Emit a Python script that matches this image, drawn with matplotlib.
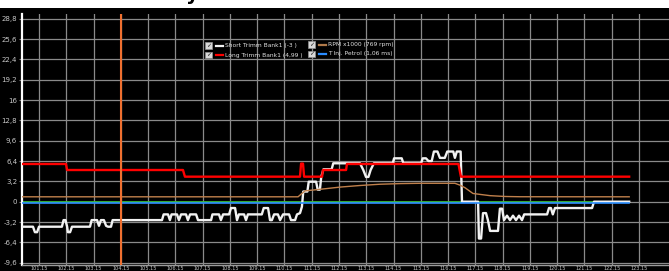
import matplotlib
matplotlib.use("Agg")
import matplotlib.pyplot as plt
from matplotlib.patches import Rectangle
from matplotlib.lines import Line2D

# ---- data (time in s from first grid line, values in chart units) ----
short_t = [-0.62, -0.22, -0.15, -0.07, 0.0, 0.84, 0.90, 0.97, 1.03, 1.06, 1.14, 1.21,
           1.87, 1.93, 2.13, 2.20, 2.27, 2.38, 2.46, 2.53, 2.64, 2.70,
           4.51, 4.57, 4.73, 4.80, 4.86, 5.06, 5.13, 5.21, 5.39, 5.46, 5.54, 5.76, 5.83,
           6.31, 6.36, 6.60, 6.67, 6.75, 6.97, 7.04, 7.19, 7.26, 7.33, 7.52, 7.59, 7.66,
           8.17, 8.24, 8.40, 8.47, 8.54, 8.62, 8.76, 8.84, 8.95, 9.17, 9.24, 9.39, 9.46,
           9.57, 9.64, 9.69, 9.84, 9.89, 10.16, 10.22, 10.30, 10.35, 10.43, 10.73, 10.79,
           11.77, 11.89, 11.99, 12.08, 12.16, 12.28, 12.97, 13.02, 13.30, 13.36,
           14.01, 14.07, 14.19, 14.28, 14.40, 14.48, 14.61, 14.70, 14.88, 14.97, 15.19,
           15.25, 15.32, 15.46, 15.51, 16.10, 16.13, 16.21, 16.28, 16.39, 16.46, 16.54,
           16.83, 16.90, 16.98, 17.05, 17.16, 17.27, 17.38, 17.49, 17.60, 17.71, 17.79,
           18.63, 18.70, 18.77, 18.84, 18.92, 20.28, 20.35, 21.64]
short_v = [-3.94, -3.94, -4.8, -4.8, -3.94, -3.94, -2.9, -2.9, -3.9, -4.8, -4.8, -3.94,
           -3.94, -2.9, -2.9, -3.8, -2.9, -2.9, -3.8, -3.94, -3.94, -2.9,
           -2.9, -2.0, -2.0, -2.9, -2.0, -2.0, -2.9, -2.0, -2.0, -2.9, -2.0, -2.0, -2.9,
           -2.9, -2.0, -2.0, -2.9, -2.0, -2.0, -1.0, -1.0, -2.9, -2.0, -2.0, -2.9, -2.0,
           -2.0, -1.0, -1.0, -2.9, -2.9, -2.0, -2.0, -2.9, -2.0, -2.0, -2.9, -2.9, -2.0,
           -1.8, -0.8, 1.6, 1.6, 3.15, 3.15, 1.9, 1.9, 3.94, 5.1, 5.1, 6.05,
           6.05, 5.0, 3.9, 3.9, 5.0, 6.05, 6.05, 6.83, 6.83, 6.05,
           6.05, 6.83, 6.83, 6.4, 6.4, 7.9, 7.9, 6.9, 6.9, 7.9, 7.9,
           6.9, 7.9, 7.9, 0.0, 0.0, -5.8, -5.8, -1.8, -1.8, -2.9, -4.6,
           -4.6, -1.1, -1.1, -2.9, -2.2, -2.9, -2.2, -2.9, -2.2, -2.9, -2.0,
           -2.0, -1.0, -1.0, -2.0, -1.0, -1.0, 0.0, 0.0]

long_t = [-0.62, 0.99, 1.03, 5.28, 5.35, 9.57, 9.61, 9.68, 9.72, 10.38, 10.41,
          11.26, 11.29, 15.38, 15.47, 21.64]
long_v = [5.94, 5.94, 4.99, 4.99, 3.94, 3.94, 6.0, 6.0, 3.94, 3.94, 4.99,
          4.99, 5.94, 5.94, 3.94, 3.94]

rpm_t = [-0.62, 9.50, 9.64, 9.75, 10.30, 11.04, 11.77, 12.50, 13.24, 13.97, 15.25,
         15.44, 15.62, 15.91, 16.17, 16.54, 17.09, 17.64, 21.64]
rpm_v = [0.77, 0.77, 1.3, 1.7, 1.95, 2.3, 2.55, 2.75, 2.85, 2.9, 2.9,
         2.6, 2.2, 1.3, 1.15, 0.95, 0.82, 0.78, 0.77]

inj_t = [-0.62, 21.64]
inj_v = [-0.15, -0.15]

aux_t = [-0.62, 21.64]
aux_v = [0.0, 0.0]

cursor_t = 3.01

y_ticks = [28.8, 25.6, 22.4, 19.2, 16, 12.8, 9.6, 6.4, 3.2, 0, -3.2, -6.4, -9.6]
y_tick_labels = ["28,8", "25,6", "22,4", "19,2", "16", "12,8", "9,6", "6,4", "3,2",
                 "0", "-3,2", "-6,4", "-9,6"]
x_ticks = list(range(0, 23))
x_tick_labels = [f"{101 + k}.15" for k in x_ticks]

legend_labels = ["Short Trimm Bank1 (-3 )", "Long Trimm Bank1 (4,99 )",
                 "RPM x1000 (769 rpm)", "T Inj. Petrol (1,06 ms)"]

# ---- figure ----
W, H = 669, 271
fig = plt.figure(figsize=(W / 100, H / 100), dpi=100, facecolor="black")

def fx(px):
    return px / W

def fy(py):
    return 1 - py / H

# white strip at top with clipped title
fig.patches.append(Rectangle((0, fy(8)), 1, 8 / H, transform=fig.transFigure,
                             facecolor="white", edgecolor="none", zorder=0))
fig.text(fx(186), 1.0, "y", fontsize=14, fontweight="bold", color="black",
         va="baseline", ha="left")

ax = fig.add_axes([fx(22), 6 / H, 1 - fx(22), (265 - 14) / H])
ax.set_facecolor("black")
ax.set_xlim(-0.623, 23.10)
ax.set_ylim(-9.97, 29.56)

ax.set_yticks(y_ticks)
ax.set_yticklabels(y_tick_labels)
ax.set_xticks(x_ticks)
ax.set_xticklabels(x_tick_labels)
ax.tick_params(axis="y", colors="#c8c8c8", labelsize=5, length=2, pad=1.5,
               color="#808080")
ax.tick_params(axis="x", colors="#c8c8c8", labelsize=3.6, length=0, pad=0.6)
ax.grid(True, color="#8a8a8a", lw=0.9)
ax.set_axisbelow(True)
for s in ["top", "right"]:
    ax.spines[s].set_visible(False)
ax.spines["left"].set_color("white")
ax.spines["left"].set_linewidth(1.6)
ax.spines["bottom"].set_color("#9a9a9a")
ax.spines["bottom"].set_linewidth(1.0)

ax.plot(aux_t, aux_v, color="#3cc83c", lw=1.2, zorder=2)
ax.plot(short_t, short_v, color="#f2f2f2", lw=1.7, zorder=3)
ax.plot(rpm_t, rpm_v, color="#c0804c", lw=1.0, zorder=4)
ax.plot(inj_t, inj_v, color="#2a8cff", lw=1.2, zorder=4)
ax.plot(long_t, long_v, color="#ff0000", lw=1.7, zorder=5)
ax.axvline(cursor_t, color="#f07030", lw=1.5, zorder=6)

# ---- legend (checkbox + line + text) ----
colors = ["#f2f2f2", "#ff0000", "#b07a4a", "#2a8cff"]
pos = [(205, 45.5), (205, 55.0), (308, 44.5), (308, 54.0)]
for lab, col, (px, py) in zip(legend_labels, colors, pos):
    fig.patches.append(Rectangle((fx(px), fy(py + 3)), 6.5 / W, 6 / H,
                                 transform=fig.transFigure, facecolor="#d8d8d8",
                                 edgecolor="#909090", lw=0.5, zorder=10))
    fig.text(fx(px + 3.2), fy(py), "\u2713", fontsize=4.5, color="#202020",
             ha="center", va="center", zorder=11)
    fig.lines.append(Line2D([fx(px + 11), fx(px + 18)], [fy(py), fy(py)],
                            transform=fig.transFigure, color=col, lw=1.6, zorder=10))
    fig.text(fx(px + 20), fy(py), lab, fontsize=4.3, color="#e0e0e0",
             ha="left", va="center", zorder=11)

fig.savefig("out.png", dpi=100, facecolor="black")
